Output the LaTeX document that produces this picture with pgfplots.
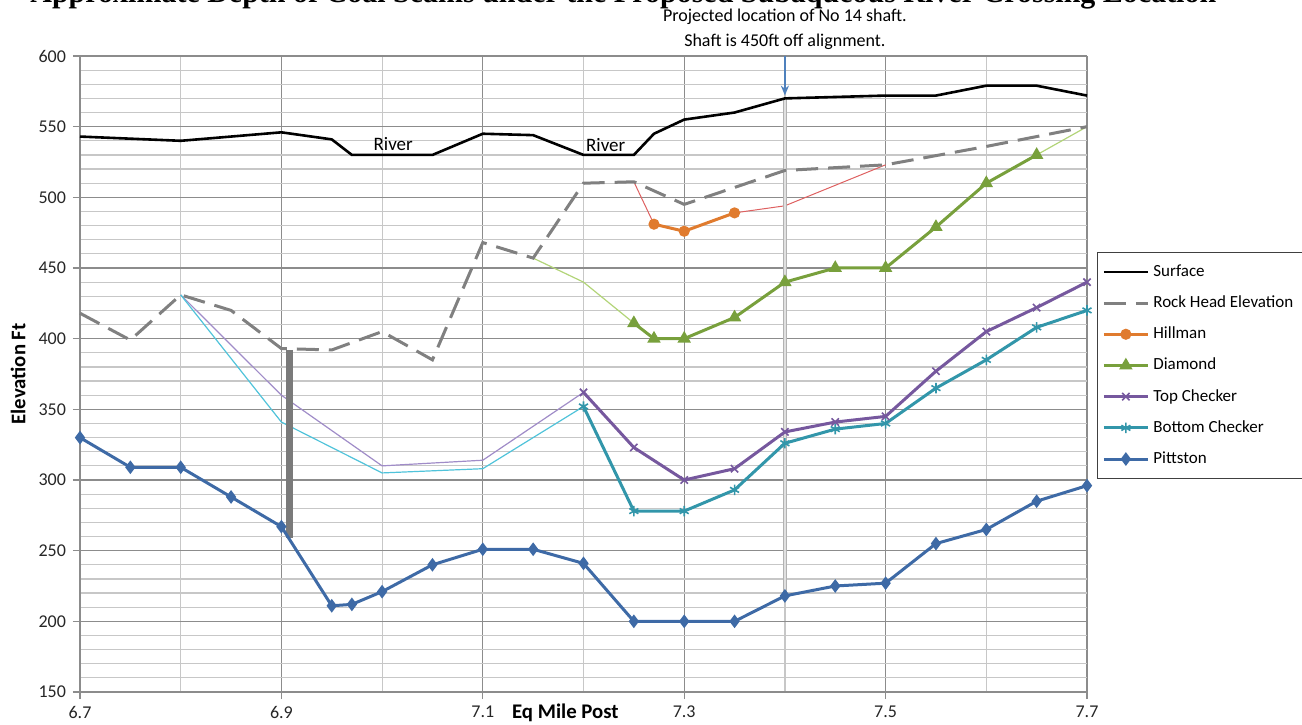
\documentclass[border=0pt]{standalone}
\usepackage{pgfplots}
\pgfplotsset{compat=1.18}
\usepackage{fontspec}
\setmainfont{Carlito}
\newfontfamily\titlefont{Liberation Serif}
\usetikzlibrary{arrows.meta}

\definecolor{rockc}{RGB}{128,128,128}
\definecolor{hillc}{RGB}{224,123,46}
\definecolor{diamc}{RGB}{120,160,60}
\definecolor{topc}{RGB}{118,88,158}
\definecolor{botc}{RGB}{50,150,170}
\definecolor{pittc}{RGB}{62,106,166}
\definecolor{redthin}{RGB}{222,96,96}
\definecolor{grnthin}{RGB}{178,212,120}
\definecolor{purthin}{RGB}{160,140,200}
\definecolor{cyathin}{RGB}{80,195,218}
\definecolor{arrowc}{RGB}{79,129,189}

\begin{document}
\begin{tikzpicture}
\path[use as bounding box] (0pt,0pt) rectangle (651pt,362pt);
\node[anchor=base west, inner sep=0pt, font=\titlefont\bfseries\fontsize{15}{17}\selectfont]
  at (15pt,360.5pt) {Approximate Depth of Coal Seams under the Proposed Subaqueous River Crossing Location};
\begin{axis}[
  at={(40pt,16pt)}, anchor=south west,
  scale only axis, width=503.5pt, height=318pt,
  xmin=6.7, xmax=7.7, ymin=150, ymax=600,
  xtick={6.7,6.9,7.1,7.3,7.5,7.7},
  minor xtick={6.8,7.0,7.2,7.4,7.6},
  ytick={150,200,...,600}, minor y tick num=4,
  grid=both,
  major grid style={draw=black!45, line width=0.6pt},
  minor grid style={draw=black!22, line width=0.6pt},
  axis lines*=left,
  axis line style={draw=black!45, line width=0.6pt},
  tick align=outside, major tick length=3.5pt, minor tick length=0pt,
  tick style={draw=black!45, line width=0.6pt},
  /pgf/number format/assume math mode=true,
  xticklabel style={/pgf/number format/.cd, fixed, precision=1},
  ticklabel style={font=\fontsize{9}{10}\selectfont, text=black!85},
  xlabel={\textbf{Eq Mile Post}},
  ylabel={\textbf{Elevation Ft}},
  label style={font=\fontsize{10.4}{12}\selectfont},
  xlabel style={at={(rel axis cs:0.482,0)}, anchor=north, yshift=-2.5pt},
  ylabel style={at={(rel axis cs:-0.047,0.5)}, anchor=south},
  clip=false,
  legend cell align=left,
  legend style={at={(rel axis cs:1.0099,0.6918)}, anchor=north west,
    draw=black!75, line width=0.6pt, font=\fontsize{8.5}{10}\selectfont,
    row sep=4.2pt, inner xsep=2.4pt, inner ysep=4pt},
  legend image code/.code={\draw[mark repeat=2, mark phase=2]
    plot coordinates {(0pt,0pt)(11pt,0pt)(22pt,0pt)};},
]

% thin interpolated connectors
\addplot[forget plot, redthin, line width=0.5pt] coordinates {(7.25,511)(7.27,481)};
\addplot[forget plot, redthin, line width=0.5pt] coordinates {(7.35,489)(7.4,494)(7.5,523)};
\addplot[forget plot, grnthin, line width=0.6pt] coordinates {(7.15,457)(7.2,440)(7.25,411)};
\addplot[forget plot, grnthin, line width=0.6pt] coordinates {(7.65,530)(7.7,550)};
\addplot[forget plot, purthin, line width=0.6pt] coordinates {(6.8,431)(6.9,360)(7.0,310)(7.1,314)(7.2,362)};
\addplot[forget plot, cyathin, line width=0.6pt] coordinates {(6.8,431)(6.9,341)(7.0,305)(7.1,308)(7.2,352)};

% shaft markers
\addplot[forget plot, black!30, line width=2pt] coordinates {(7.4,570)(7.4,216)};
\addplot[forget plot, black!12, line width=0.6pt] coordinates {(7.4,570)(7.4,216)};
\addplot[forget plot, black!52, line width=3.5pt] coordinates {(6.9085,392)(6.9085,259)};
\addplot[forget plot, arrowc, line width=0.8pt, -{Stealth[length=5pt,width=4pt]}] coordinates {(7.4,600)(7.4,572)};

% main series
\addplot[black, line width=1.3pt] coordinates {
  (6.7,543)(6.8,540)(6.9,546)(6.95,541)(6.97,530)(7.05,530)(7.1,545)(7.15,544)
  (7.2,530)(7.25,530)(7.27,545)(7.3,555)(7.35,560)(7.4,570)(7.45,571)(7.5,572)
  (7.55,572)(7.6,579)(7.65,579)(7.7,572)};
\addlegendentry{Surface}

\addplot[rockc, line width=1.5pt, dash pattern=on 11pt off 5pt] coordinates {
  (6.7,418)(6.75,399)(6.8,431)(6.85,420)(6.9,393)(6.95,392)(7.0,405)(7.05,385)
  (7.1,468)(7.15,457)(7.2,510)(7.25,511)(7.3,495)(7.4,519)(7.5,523)(7.6,536)(7.7,550)};
\addlegendentry{Rock Head Elevation}

\addplot[hillc, line width=1.5pt, mark=*, mark size=2pt] coordinates {
  (7.27,481)(7.3,476)(7.35,489)};
\addlegendentry{Hillman}

\addplot[diamc, line width=1.5pt, mark=triangle*, mark size=2.4pt] coordinates {
  (7.25,411)(7.27,400)(7.3,400)(7.35,415)(7.4,440)(7.45,450)(7.5,450)
  (7.55,479)(7.6,510)(7.65,530)};
\addlegendentry{Diamond}

\addplot[topc, line width=1.5pt, mark=x, mark size=2.6pt, mark options={line width=0.8pt}] coordinates {
  (7.2,362)(7.25,323)(7.3,300)(7.35,308)(7.4,334)(7.45,341)(7.5,345)
  (7.55,377)(7.6,405)(7.65,422)(7.7,440)};
\addlegendentry{Top Checker}

\addplot[botc, line width=1.5pt, mark=asterisk, mark size=2.6pt, mark options={line width=0.8pt}] coordinates {
  (7.2,352)(7.25,278)(7.3,278)(7.35,293)(7.4,326)(7.45,336)(7.5,340)
  (7.55,365)(7.6,385)(7.65,408)(7.7,420)};
\addlegendentry{Bottom Checker}

\addplot[pittc, line width=1.5pt, mark=diamond*, mark size=2.2pt] coordinates {
  (6.7,330)(6.75,309)(6.8,309)(6.85,288)(6.9,267)(6.95,211)(6.97,212)(7.0,221)
  (7.05,240)(7.1,251)(7.15,251)(7.2,241)(7.25,200)(7.3,200)(7.35,200)(7.4,218)
  (7.45,225)(7.5,227)(7.55,255)(7.6,265)(7.65,285)(7.7,296)};
\addlegendentry{Pittston}

\node[font=\fontsize{9.5}{11}\selectfont] at (axis cs:7.011,538) {River};
\node[font=\fontsize{9.5}{11}\selectfont] at (axis cs:7.222,537) {River};
\node[align=center, anchor=south, inner sep=0pt,
  font=\fontsize{9}{12.5}\selectfont] at (axis cs:7.4,604)
  {Projected location of No 14 shaft.\\Shaft is 450ft off alignment.};
\end{axis}
\end{tikzpicture}
\end{document}
